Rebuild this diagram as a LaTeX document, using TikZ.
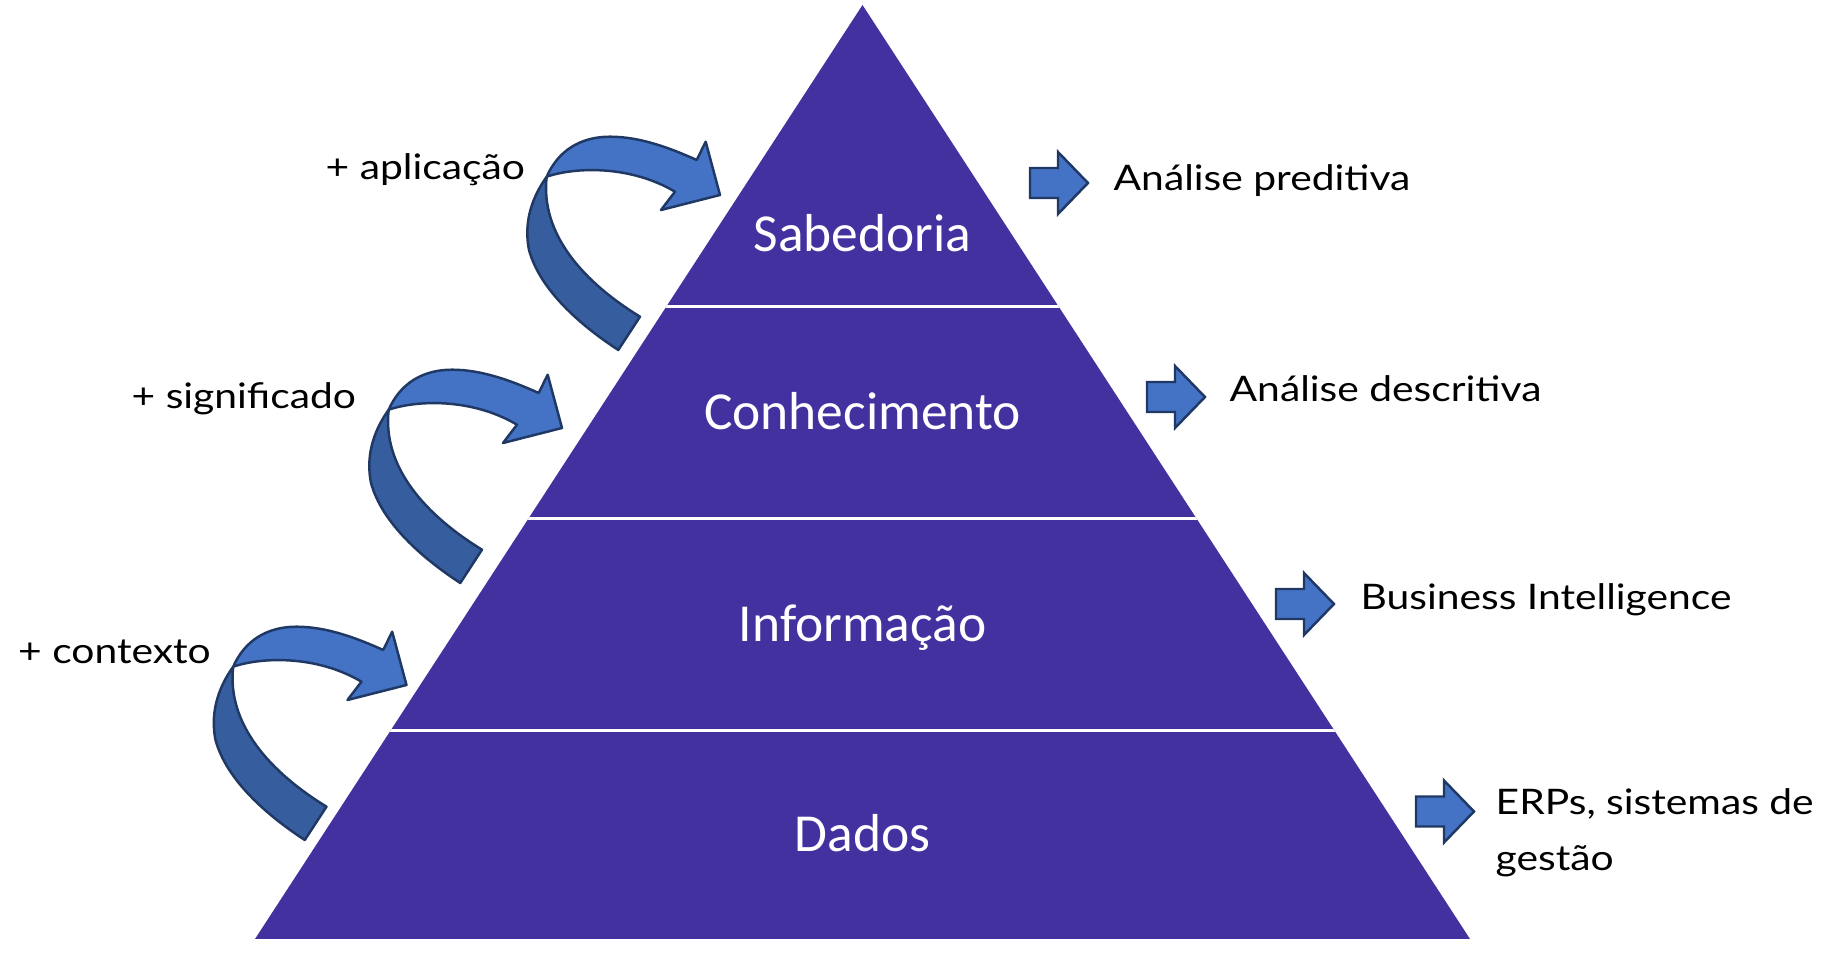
\documentclass[tikz,border=0pt]{standalone}
\usepackage{fontspec}
\setmainfont{Carlito}
\newfontfamily\sidefont[FakeStretch=1.16]{Lato}
\usetikzlibrary{positioning}

\definecolor{pyrpurple}{RGB}{67,49,160}
\definecolor{arrowblue}{RGB}{68,114,196}
\definecolor{arrowshade}{RGB}{54,93,158}
\definecolor{arrowline}{RGB}{31,56,100}

\tikzset{
  layer/.style={font=\fontsize{15.2}{18}\selectfont,text=white,anchor=base,inner sep=0pt},
  sidetext/.style={font=\sidefont\fontsize{10}{12}\selectfont,anchor=base west,inner sep=0pt},
  bandlight/.style={fill=arrowblue,draw=arrowline,line width=0.7pt,line join=round},
  banddark/.style={fill=arrowshade,draw=arrowline,line width=0.7pt,line join=round},
  blockarrow/.style={fill=arrowblue,draw=arrowline,line width=0.7pt,line join=miter},
}

\begin{document}
\begin{tikzpicture}[x=0.01cm,y=-0.01cm]
\useasboundingbox (0,0) rectangle (1835,955);
% pyramid
\coordinate (top) at (862.5,5);
\coordinate (bl) at (255,939);
\coordinate (br) at (1470,939);
\fill[pyrpurple] (top)--(br)--(bl)--cycle;
\begin{scope}
\clip (top)--(br)--(bl)--cycle;
\foreach \y in {306.6,518.4,730.3}
  \draw[white,line width=1pt] (200,\y) -- (1550,\y);
\end{scope}
\node[layer] (sab) at (862.5,251.5) {Sabedoria};
\node[layer] (con) at (862.5,429.5) {Conhecimento};
\node[layer] (inf) at (862.5,641.5) {Informação};
\node[layer] (dad) at (862.5,852) {Dados};
% curved arrows
\foreach \tx/\ty in {720/195,562/428,406.5/685}{
\begin{scope}[shift={(\tx,\ty)}]
\filldraw[banddark] (-173.3,-18.3) .. controls (-190,5) and (-196,30) .. (-191,55)
  .. controls (-180,95) and (-140,130) .. (-101.7,155) -- (-80,121.7)
  .. controls (-135,88) and (-180,40) .. cycle;
\filldraw[bandlight] (-173.3,-18.3) .. controls (-162,-44) and (-140,-58.3) .. (-110,-58.3)
  .. controls (-80,-58.3) and (-50,-47) .. (-23.3,-35) -- (-14.3,-53.3) -- (0,0)
  -- (-59,15) -- (-45,-3.3) .. controls (-90,-30) and (-145,-28) .. cycle;
\end{scope}}
% block arrows
\foreach \ax/\ay in {1030/183,1147/397,1276/604,1416/811.5}
  \filldraw[blockarrow] (\ax,\ay-15) -- (\ax+28,\ay-15) -- (\ax+28,\ay-31) -- (\ax+58,\ay)
    -- (\ax+28,\ay+31) -- (\ax+28,\ay+15) -- (\ax,\ay+15) -- cycle;
% labels
\node[sidetext] (apl) at (325,180) {+ aplicação};
\node[sidetext] (sig) at (131,409) {+ significado};
\node[sidetext] (ctx) at (17.5,664) {+ contexto};
\node[sidetext] (pred) at (1113,191) {Análise preditiva};
\node[sidetext] (desc) at (1229,402) {Análise descritiva};
\node[sidetext] (bi) at (1360,610) {Business Intelligence};
\node[sidetext] (erp) at (1495,815) {ERPs, sistemas de};
\node[sidetext] (ges) at (1495,871) {gestão};
\end{tikzpicture}
\end{document}
